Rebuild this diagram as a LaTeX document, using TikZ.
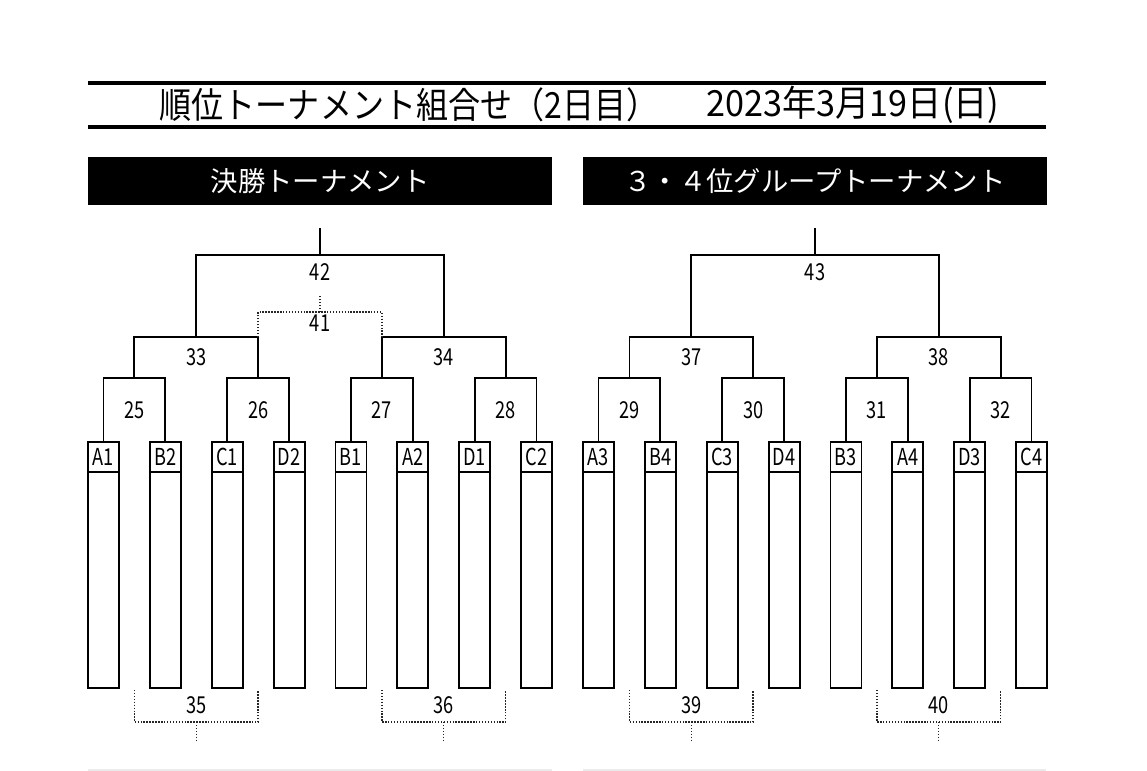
\documentclass[tikz,border=0pt]{standalone}
\usepackage{fontspec}
\newfontfamily\jpfont{Noto Sans CJK JP}
\newfontfamily\jpnarrow[FakeStretch=0.78]{Noto Sans CJK JP}
\newfontfamily\jptitle[FakeStretch=0.89]{Noto Sans CJK JP}
\newfontfamily\jpdate[FakeStretch=0.95]{Noto Sans CJK JP}
\usetikzlibrary{positioning,calc}

\begin{document}
\begin{tikzpicture}[x=0.75pt,y=-0.75pt,
    line/.style={line width=1.4pt,line cap=rect},
    dotline/.style={line width=1.1pt,black!85,dash pattern=on 1.1pt off 1.1pt},
    rule/.style={line width=2.6pt},
    seed/.style={draw,line width=1.4pt,outer sep=0pt,inner sep=0pt,minimum width=23.25pt,minimum height=22.5pt,anchor=north,font=\jpnarrow\fontsize{17.5}{17.5}\selectfont},
    slot/.style={draw,line width=1.4pt,outer sep=0pt,inner sep=0pt,minimum width=23.25pt,minimum height=162pt},
    num/.style={inner sep=0pt,font=\jpnarrow\fontsize{17.5}{17.5}\selectfont},
    bar/.style={fill=black,text=white,minimum width=348pt,minimum height=36pt,inner sep=0pt,font=\jpfont\fontsize{20.5}{20.5}\selectfont},
    title/.style={inner sep=0pt,font=\jptitle\fontsize{27}{27}\selectfont}]
  \useasboundingbox (0,0) rectangle (1147,771);

  % heading
  \draw[rule] (88,83) -- (1046,83);
  \draw[rule] (88,127) -- (1046,127);
  \node[title] (ttl) at (409,105) {順位トーナメント組合せ（2日目）};
  \node[title,font=\jpdate\fontsize{27}{27}\selectfont] (date) at (853,105) {2023年3月19日(日)};

  \node[bar] (lbar) at (320,181) {決勝トーナメント};
  \node[bar] (rbar) at (815,181) {３・４位グループトーナメント};

  % seeds
  \foreach[count=\i,evaluate={103.5+(\i-1)*61.86} as \x] \n in {A1,B2,C1,D2,B1,A2,D1,C2} {
    \node[seed] (\n) at (\x,442) {\n};
    \node[slot,below=0pt of \n] (s\n) {};
  }
  \foreach[count=\i,evaluate={598.5+(\i-1)*61.86} as \x] \n in {A3,B4,C3,D4,B3,A4,D3,C4} {
    \node[seed] (\n) at (\x,442) {\n};
    \node[slot,below=0pt of \n] (s\n) {};
  }

  % first round
  \foreach \m/\a/\b in {25/A1/B2,26/C1/D2,27/B1/A2,28/D1/C2,29/A3/B4,30/C3/D4,31/B3/A4,32/D3/C4} {
    \coordinate (g\m) at ($(\a.north)!.5!(\b.north)+(0,-64)$);
    \draw[line] (\a.north) |- (g\m) -| (\b.north);
    \node[num] (n\m) at ([yshift=-24pt]g\m) {\m};
  }

  % second round
  \foreach \m/\a/\b in {33/25/26,34/27/28,37/29/30,38/31/32} {
    \coordinate (g\m) at ($(g\a)!.5!(g\b)+(0,-41)$);
    \draw[line] (g\a) |- (g\m) -| (g\b);
    \node[num] (n\m) at ([yshift=-15pt]g\m) {\m};
  }

  % finals
  \foreach \m/\a/\b in {42/33/34,43/37/38} {
    \coordinate (g\m) at ($(g\a)!.5!(g\b)+(0,-82)$);
    \coordinate (t\m) at ($(g\m)+(0,-26)$);
    \draw[line] (g\a) |- (g\m) -| (g\b);
    \draw[line] (g\m) -- (t\m);
    \node[num] (n\m) at ([yshift=-12.75pt]g\m) {\m};
  }

  % third place
  \coordinate (g41) at ($(g33)!.5!(g34)+(0,-25)$);
  \coordinate (t41) at ($(g41)+(0,-17)$);
  \draw[dotline] (g26 |- g33) |- (g41) -| (g27 |- g34);
  \draw[dotline] (g41) -- (t41);
  \node[num] (n41) at ([yshift=-8.25pt]g41) {41};

  % losers brackets
  \coordinate (base) at (0,690);
  \foreach \m/\a/\b in {35/25/26,36/27/28,39/29/30,40/31/32} {
    \coordinate (g\m) at ($(g\a |- base)!.5!(g\b |- base)+(0,32)$);
    \coordinate (t\m) at ($(g\m)+(0,18)$);
    \draw[dotline] (g\a |- base) |- (g\m) -| (g\b |- base);
    \draw[dotline] (g\m) -- (t\m);
    \node[num] (n\m) at ([yshift=12.75pt]g\m) {\m};
  }

  \draw[black!8,line width=0.8pt] (88,770) -- (552,770);
  \draw[black!8,line width=0.8pt] (583,770) -- (1046,770);
\end{tikzpicture}
\end{document}
